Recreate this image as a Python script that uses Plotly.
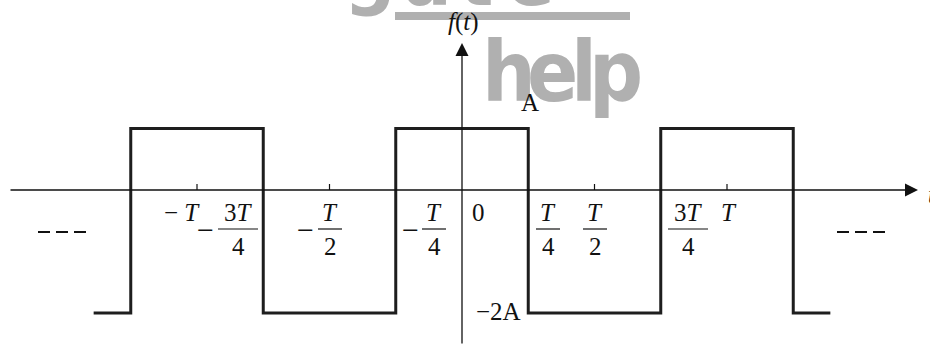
import plotly.graph_objects as go

# ---- data (time in units of T, amplitude in units of A) ----
edge_times = [-1.39, -1.25, -0.75, -0.25, 0.25, 0.75, 1.25, 1.39]
levels = [-2, 1, -2, 1, -2, 1, -2, -2]
tick_times = [-1.0, -0.5, 0.5, 1.0]

W, H = 930, 348
X0, PX_PER_T = 462, 265     # pixel of t=0, pixels per T
Y0, PX_PER_A = 190, 61.5    # pixel of f=0, pixels per A

x_range = [(0 - X0) / PX_PER_T, (W - X0) / PX_PER_T]
y_range = [(Y0 - H) / PX_PER_A, (Y0 - 0) / PX_PER_A]


def px(x):
    return x / W


def py(y):
    return 1 - y / H


def fy(y_pix):
    return (Y0 - y_pix) / PX_PER_A


def ft(x_pix):
    return (x_pix - X0) / PX_PER_T


SERIF = "Liberation Serif"
MARK_FONT = "DejaVu Sans Condensed, DejaVu Sans, sans-serif"
INK = "#111111"
GRAY = "#b0b0b0"

fig = go.Figure()
fig.add_trace(go.Scatter(
    x=edge_times, y=levels, mode="lines", line_shape="hv",
    line=dict(color="#1e1e1e", width=3), hoverinfo="skip", showlegend=False,
))

annotations = []
shapes = []

# watermark
for ch, cx, cy in zip("gate", [370, 427, 476, 530], [-29, -22, -22, -22]):
    annotations.append(dict(xref="paper", yref="paper", x=px(cx), y=py(cy),
                            text="<b>%s</b>" % ch, showarrow=False, xanchor="center",
                            yanchor="middle",
                            font=dict(family=MARK_FONT, size=80, color=GRAY)))
shapes.append(dict(type="rect", xref="paper", yref="paper", x0=px(395), x1=px(630),
                   y0=py(20), y1=py(12), fillcolor=GRAY, line_width=0, layer="below"))
for ch, cx in zip("help", [509, 552, 584, 616]):
    annotations.append(dict(xref="paper", yref="paper", x=px(cx), y=py(72),
                            text="<b>%s</b>" % ch, showarrow=False, xanchor="center",
                            yanchor="middle",
                            font=dict(family=MARK_FONT, size=84, color=GRAY)))

# axes with arrow heads
annotations.append(dict(x=ft(918), y=0, ax=ft(9), ay=0, xref="x", yref="y", axref="x",
                        ayref="y", text="", showarrow=True, arrowhead=2, arrowsize=2,
                        arrowwidth=1.3, arrowcolor=INK, standoff=0))
annotations.append(dict(x=0, y=fy(43), ax=0, ay=fy(345), xref="x", yref="y", axref="x",
                        ayref="y", text="", showarrow=True, arrowhead=2, arrowsize=2,
                        arrowwidth=1.3, arrowcolor=INK, standoff=0))

# small ticks at multiples of T/2
for tt in tick_times:
    shapes.append(dict(type="line", xref="x", yref="y", x0=tt, x1=tt, y0=0, y1=6 / PX_PER_A,
                       line=dict(color=INK, width=1.2)))

FS = 25


def label(xc, yc, text, size=FS):
    annotations.append(dict(xref="paper", yref="paper", x=px(xc), y=py(yc), text=text,
                            showarrow=False, xanchor="center", yanchor="middle",
                            font=dict(family=SERIF, size=size, color=INK)))


NUM_Y, BAR_Y, DEN_Y = 212, 229, 246


def frac(xc, num, den, half):
    label(xc, NUM_Y, num)
    label(xc, DEN_Y, den)
    shapes.append(dict(type="line", xref="paper", yref="paper", x0=px(xc - half),
                       x1=px(xc + half), y0=py(BAR_Y), y1=py(BAR_Y),
                       line=dict(color=INK, width=1.2)))


label(463, 22, "<i>f</i>(<i>t</i>)")
label(932, 195, "<i>t</i>")
label(530, 103, "A")
label(499, 311, "−2A")

label(182, NUM_Y, "− <i>T</i>")
label(205, BAR_Y, "−", size=30)
frac(238, "3<i>T</i>", "4", 20)
label(305, BAR_Y, "−", size=30)
frac(330, "<i>T</i>", "2", 12)
label(410, BAR_Y, "−", size=30)
frac(434, "<i>T</i>", "4", 12)
label(478, NUM_Y, "0")
frac(548, "<i>T</i>", "4", 12)
frac(595, "<i>T</i>", "2", 12)
frac(688, "3<i>T</i>", "4", 20)
label(729, NUM_Y, "<i>T</i>")

# continuation marks on both sides
for x0 in (38, 837):
    shapes.append(dict(type="line", xref="paper", yref="paper", x0=px(x0), x1=px(x0 + 48),
                       y0=py(232), y1=py(232), line=dict(color=INK, width=2, dash="12px,6px")))

fig.update_layout(
    width=W, height=H, margin=dict(l=0, r=0, t=0, b=0),
    paper_bgcolor="white", plot_bgcolor="white",
    xaxis=dict(range=x_range, visible=False, fixedrange=True),
    yaxis=dict(range=y_range, visible=False, fixedrange=True),
    annotations=annotations, shapes=shapes, showlegend=False,
)
fig.write_html("out.html")
